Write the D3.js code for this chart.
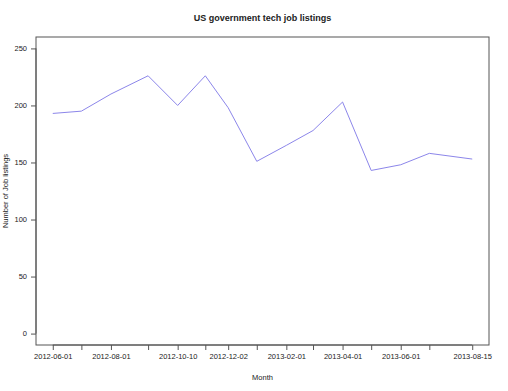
<!DOCTYPE html>
<html>
<head>
<meta charset="utf-8">
<script src="https://cdn.jsdelivr.net/npm/d3@7"></script>
<style>
  body { margin: 0; background: #fff; }
  text { font-family: "Liberation Sans", Arial, sans-serif; fill: #222; }
</style>
</head>
<body>
<svg id="chart"></svg>
<script>
// data
const months = ["2012-06-01", "2012-07-01", "2012-08-01", "2012-09-09", "2012-10-10",
    "2012-11-08", "2012-12-02", "2013-01-01", "2013-02-01", "2013-03-01",
    "2013-04-01", "2013-05-01", "2013-06-01", "2013-07-01", "2013-08-15"];
const listings = [193, 195, 210, 226, 200, 226, 198, 151, 165, 178, 203, 143, 148, 158, 153];
const labelledMonths = ["2012-06-01", "2012-08-01", "2012-10-10", "2012-12-02",
    "2013-02-01", "2013-04-01", "2013-06-01", "2013-08-15"];
const yTicks = [0, 50, 100, 150, 200, 250];

const width = 508, height = 391;
const margin = { top: 37, right: 19, bottom: 46, left: 36 };
const innerW = width - margin.left - margin.right;
const innerH = height - margin.top - margin.bottom;

const parse = d3.timeParse("%Y-%m-%d");
const data = months.map((m, i) => ({ date: parse(m), value: listings[i] }));

const svg = d3.select("#chart").attr("width", width).attr("height", height);
const g = svg.append("g").attr("transform", `translate(${margin.left},${margin.top})`);

// R-style 4% padding on both axes
const ext = d3.extent(data, d => d.date);
const pad = (ext[1] - ext[0]) * 0.04;
const x = d3.scaleTime()
    .domain([new Date(+ext[0] - pad), new Date(+ext[1] + pad)])
    .range([0, innerW]);
const y = d3.scaleLinear().domain([-10, 260]).range([innerH, 0]);

g.append("rect")
    .attr("width", innerW).attr("height", innerH)
    .attr("fill", "none").attr("stroke", "#555").attr("stroke-width", 1);

const line = d3.line().x(d => x(d.date)).y(d => y(d.value));
g.append("path")
    .datum(data)
    .attr("fill", "none")
    .attr("stroke", "#8c86ea")
    .attr("stroke-width", 1)
    .attr("d", line);

// x axis: one tick per month, labels only where R kept them
const xAxis = g.append("g")
    .attr("transform", `translate(0,${innerH})`)
    .call(d3.axisBottom(x)
        .tickValues(data.map(d => d.date))
        .tickSize(5)
        .tickPadding(4)
        .tickFormat(d => {
            const s = d3.timeFormat("%Y-%m-%d")(d);
            return labelledMonths.includes(s) ? s : "";
        }));
xAxis.select(".domain")
    .attr("d", `M${x(data[0].date)},0H${x(data[data.length - 1].date)}`)
    .attr("stroke", "#555");
xAxis.selectAll(".tick line").attr("stroke", "#555");
xAxis.selectAll("text").style("font-size", "7.5px").attr("fill", "#222");

const yAxis = g.append("g")
    .call(d3.axisLeft(y).tickValues(yTicks).tickSize(5).tickPadding(4));
yAxis.select(".domain")
    .attr("d", `M0,${y(0)}V${y(250)}`)
    .attr("stroke", "#555");
yAxis.selectAll(".tick line").attr("stroke", "#555");
yAxis.selectAll("text").style("font-size", "7.5px").attr("fill", "#222");

svg.append("text")
    .attr("x", margin.left + innerW / 2).attr("y", 21)
    .attr("text-anchor", "middle")
    .style("font-size", "9px").style("font-weight", "bold")
    .text("US government tech job listings");

svg.append("text")
    .attr("x", margin.left + innerW / 2).attr("y", 380)
    .attr("text-anchor", "middle")
    .style("font-size", "7.5px")
    .text("Month");

svg.append("text")
    .attr("transform", `translate(8,${margin.top + innerH / 2}) rotate(-90)`)
    .attr("text-anchor", "middle")
    .style("font-size", "7.5px")
    .text("Number of Job listings");
</script>
</body>
</html>
